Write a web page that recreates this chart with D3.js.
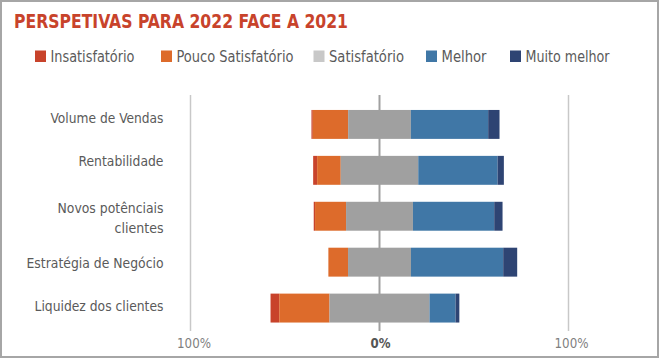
<!DOCTYPE html>
<html><head><meta charset="utf-8">
<script src="https://cdn.jsdelivr.net/npm/d3@7"></script>
<style>
body{margin:0;background:#fff;}
text{font-family:"DejaVu Sans Condensed","Liberation Sans Narrow",sans-serif;}
</style></head>
<body><svg id="c" width="660" height="359"></svg>
<script>
const categories = ["Volume de Vendas","Rentabilidade","Novos potênciais clientes","Estratégia de Negócio","Liquidez dos clientes"];
const categoryLines = [["Volume de Vendas"],["Rentabilidade"],["Novos potênciais","clientes"],["Estratégia de Negócio"],["Liquidez dos clientes"]];
const seriesNames = ["Insatisfatório","Pouco Satisfatório","Satisfatório","Melhor","Muito melhor"];
const insatisfatorio = [0.7, 2.1, 0.7, 0, 4.6];
const poucoSatisfatorio = [18.7, 12.5, 16.4, 10.4, 26.6];
const satisfatorio = [33.2, 41.0, 35.4, 33.3, 52.9];
const melhor = [40.9, 42.0, 43.0, 48.8, 13.8];
const muitoMelhor = [6.0, 3.3, 4.4, 7.4, 2.0];
const tickValues = [-100, 0, 100];
const tickLabels = ["100%", "0%", "100%"];
const colors = ["#c8432b","#dd6b2b","#a0a0a0","#4077a6","#2e4473"];
const legendColors = ["#c8432b","#dd6b2b","#c8c8c8","#4077a6","#2e4473"];

const textWidths = {
  "PERSPETIVAS PARA 2022 FACE A 2021": 334,
  "Insatisfatório": 84, "Pouco Satisfatório": 117, "Satisfatório": 75, "Melhor": 45, "Muito melhor": 84,
  "Volume de Vendas": 113, "Rentabilidade": 85, "Novos potênciais": 106, "clientes": 49,
  "Estratégia de Negócio": 137, "Liquidez dos clientes": 129,
  "100%": 34, "0%": 20
};
const labelNudge = [-7, -10, 1.7, 0.5, -2.8];
function fit(sel, t){ const w = textWidths[t]; if (w) sel.attr("textLength", w).attr("lengthAdjust","spacingAndGlyphs"); return sel; }

const svg = d3.select("#c");
svg.append("rect").attr("x",1).attr("y",1).attr("width",657).attr("height",356)
  .attr("fill","none").attr("stroke","#a6a6a6").attr("stroke-width",2);

const title = "PERSPETIVAS PARA 2022 FACE A 2021";
fit(svg.append("text").attr("x",14).attr("y",27.5).text(title)
  .attr("fill","#c8432b").attr("font-weight","bold").attr("font-size",19.5), title);

// legend
const legX = [35, 161, 313.5, 426, 510];
seriesNames.forEach((n,i)=>{
  const g = svg.append("g").attr("transform",`translate(${legX[i]},0)`);
  g.append("rect").attr("x",0).attr("y",50.5).attr("width",11).attr("height",11.5).attr("fill",legendColors[i]);
  fit(g.append("text").attr("x",15.5).attr("y",61.8).attr("font-size",16.5).attr("fill","#5a5a5a").text(n), n);
});

const x = d3.scaleLinear().domain([-100,100]).range([190.5,568.5]);
const y = d3.scaleBand().domain(categories).range([95.5,337]).paddingInner(0.37).paddingOuter(0.315);

// gridlines
tickValues.forEach(v=>{
  svg.append("line").attr("x1",x(v)).attr("x2",x(v)).attr("y1",95).attr("y2",331)
    .attr("stroke", v===0 ? "#a0a0a0" : "#c8c8c8").attr("stroke-width", v===0 ? 2 : 1.5);
});

// stacked diverging bars
const seriesVals = [insatisfatorio, poucoSatisfatorio, satisfatorio, melhor, muitoMelhor];
categories.forEach((c,ci)=>{
  const neg = seriesVals[0][ci] + seriesVals[1][ci] + seriesVals[2][ci]/2;
  let start = -neg;
  seriesVals.forEach((s,si)=>{
    const v = s[ci];
    if (v>0) {
      svg.append("rect").attr("x",x(start)).attr("y",y(c))
        .attr("width",x(start+v)-x(start)).attr("height",y.bandwidth()).attr("fill",colors[si]);
    }
    start += v;
  });
});

// category labels
categories.forEach((c,ci)=>{
  const lines = categoryLines[ci];
  const cy = y(c) + y.bandwidth()/2 + labelNudge[ci];
  lines.forEach((l,li)=>{
    const off = (li - (lines.length-1)/2) * 20;
    fit(svg.append("text").attr("x",163.5).attr("y",cy+off+5.3).attr("text-anchor","end")
      .attr("font-size",14.5).attr("fill","#5a5a5a").text(l), l);
  });
});

// x tick labels
const tickNudge = [3.5, 1, 3];
tickValues.forEach((v,i)=>{
  fit(svg.append("text").attr("x",x(v) + tickNudge[i]).attr("y",347.7).attr("text-anchor","middle")
    .attr("font-size",14).attr("fill", v===0 ? "#555" : "#7f7f7f")
    .attr("font-weight", v===0 ? "bold" : "normal").text(tickLabels[i]), tickLabels[i]);
});
</script></body></html>
